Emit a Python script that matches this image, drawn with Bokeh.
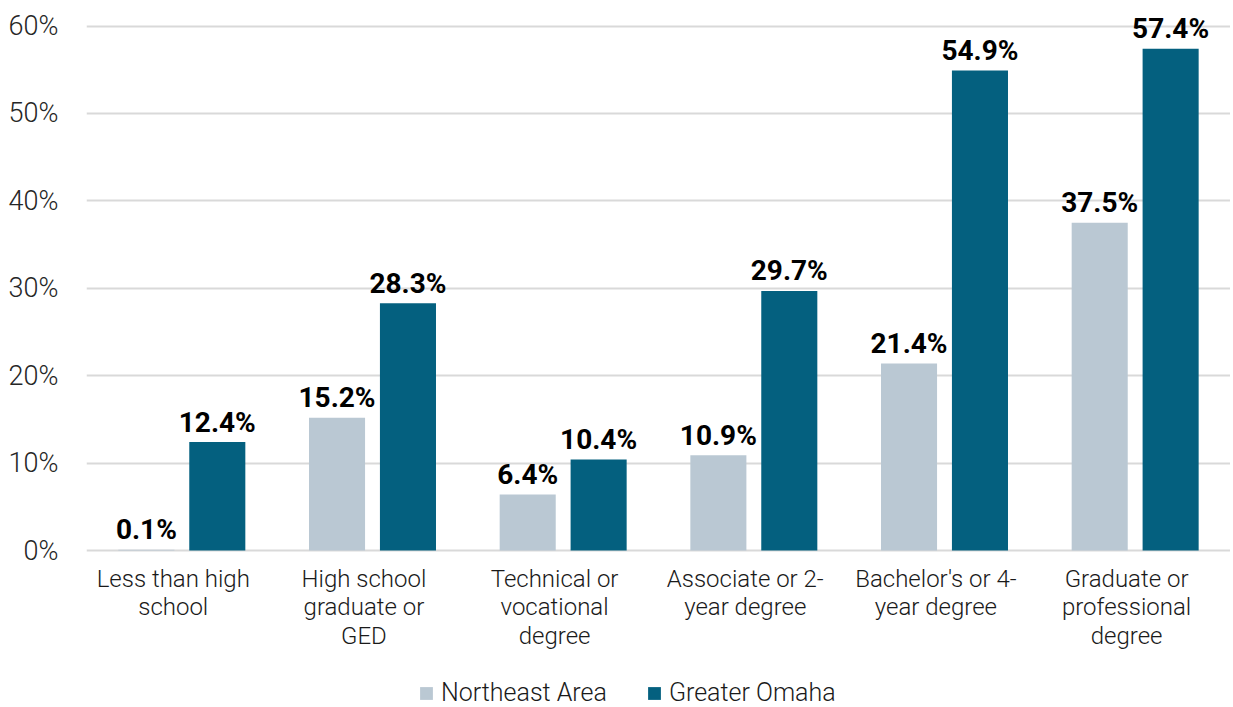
from bokeh.plotting import figure
from bokeh.models import ColumnDataSource, Range1d, FixedTicker, PrintfTickFormatter, Legend, LegendItem
from bokeh.transform import dodge
from bokeh.core.properties import value
from bokeh.embed import file_html
from bokeh.resources import INLINE

categories = ["Less than high\nschool", "High school\ngraduate or\nGED", "Technical or\nvocational\ndegree",
              "Associate or 2-\nyear degree", "Bachelor's or 4-\nyear degree", "Graduate or\nprofessional\ndegree"]
northeast = [0.1, 15.2, 6.4, 10.9, 21.4, 37.5]
omaha = [12.4, 28.3, 10.4, 29.7, 54.9, 57.4]
series_names = ["Northeast Area", "Greater Omaha"]
colors = ["#BAC8D3", "#04607F"]
y_ticks = [0, 10, 20, 30, 40, 50, 60]

LIGHT = "Roboto Light"

# category slot centres (index based); Excel places the category labels slightly left of the bar pair
centers = [i + 0.5 for i in range(len(categories))]
label_pos = [round(c - 0.045, 3) for c in centers]

src = ColumnDataSource(dict(
    x=centers, ne=northeast, om=omaha,
    ne_lbl=[f"{v:.1f}%" for v in northeast],
    om_lbl=[f"{v:.1f}%" for v in omaha],
))
cat_src = ColumnDataSource(dict(x=label_pos, y=[0] * len(categories), text=categories))

# the frame spans the full figure height so that the category labels and legend are drawn inside it
p = figure(width=1230, height=707, frame_width=1144, frame_height=707,
           x_range=Range1d(0, len(categories)), y_range=Range1d(-17.96, 62.92),
           output_backend="svg", toolbar_location=None,
           min_border_left=86, min_border_right=0, min_border_top=0, min_border_bottom=0)
p.outline_line_color = None
p.background_fill_color = "white"
p.border_fill_color = "white"

r1 = p.vbar(x=dodge("x", -0.186), top="ne", width=0.294, source=src,
            fill_color=colors[0], line_color=None)
r2 = p.vbar(x=dodge("x", 0.186), top="om", width=0.294, source=src,
            fill_color=colors[1], line_color=None)

for off, col, lbl in [(-0.186, "ne", "ne_lbl"), (0.186, "om", "om_lbl")]:
    p.text(x=dodge("x", off), y=col, text=lbl, source=src,
           text_font=value("Roboto"), text_font_style="bold", text_font_size="28px",
           text_color="#000000", text_align="center", text_baseline="alphabetic", y_offset=-20)

# category labels under the bars
p.text(x="x", y="y", text="text", source=cat_src,
       text_font=value(LIGHT), text_font_size="24px", text_color="#1a1a1a",
       text_align="center", text_baseline="top", text_line_height=1.03, y_offset=14)

p.xaxis.visible = False
p.xgrid.grid_line_color = None
p.ygrid.grid_line_color = "#d9d9d9"
p.ygrid.grid_line_width = 2
p.yaxis.ticker = FixedTicker(ticks=y_ticks)
p.yaxis.formatter = PrintfTickFormatter(format="%d%%")
p.yaxis.axis_line_color = None
p.yaxis.major_tick_line_color = None
p.yaxis.minor_tick_line_color = None
p.yaxis.major_label_text_font = LIGHT
p.yaxis.major_label_text_font_style = "normal"
p.yaxis.major_label_text_font_size = "27px"
p.yaxis.major_label_text_color = "#262626"
p.yaxis.major_label_standoff = 22

legend = Legend(items=[LegendItem(label=series_names[0], renderers=[r1]),
                       LegendItem(label=series_names[1], renderers=[r2])],
                orientation="horizontal", location=(332, 0),
                label_text_font=LIGHT, label_text_font_size="25px", label_text_color="#1a1a1a",
                label_height=26, glyph_width=16, glyph_height=16, label_standoff=7, spacing=39,
                border_line_color=None, background_fill_alpha=0, margin=0, padding=0)
p.add_layout(legend, "center")

open("out.html", "w").write(file_html(p, INLINE))
